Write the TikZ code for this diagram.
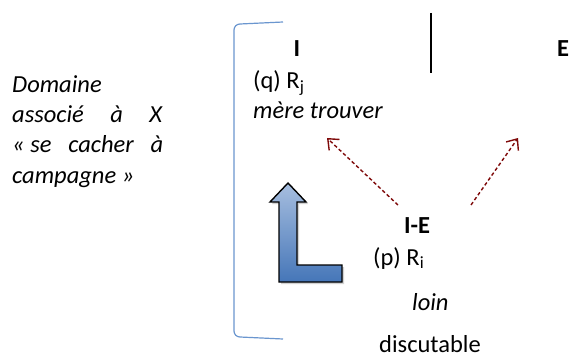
\documentclass[tikz,border=0pt]{standalone}
\usepackage{fontspec}
\setmainfont{Carlito}
\usetikzlibrary{arrows.meta,shadows}
\definecolor{brk}{HTML}{6A96CF}
\definecolor{dred}{HTML}{7F0A0A}
\definecolor{ltop}{HTML}{A7BEDF}
\definecolor{lbot}{HTML}{4576B8}
\tikzset{
  txt/.style={inner sep=0pt, font=\fontsize{24.5}{29}\selectfont},
  btxt/.style={txt, font=\fontsize{24.5}{29}\selectfont\bfseries},
  itxt/.style={txt, font=\fontsize{24.5}{29}\selectfont\itshape},
  redarrow/.style={draw=dred, line width=1.4pt, dash pattern=on 3.5pt off 2.5pt, -{Straight Barb[length=9pt,width=15pt,line width=1.4pt]}},
}
\begin{document}
\begin{tikzpicture}[x=1pt,y=-1pt]
\useasboundingbox[fill=white] (0,0) rectangle (569,358);
% left text
\node[itxt, anchor=base west] (dom) at (12,93) {Domaine};
\node[itxt, anchor=base west] (assoc) at (12,123) {\makebox[150pt][s]{associé\hfill à\hfill X}};
\node[itxt, anchor=base west] (cach) at (12,153) {\makebox[151pt][s]{«\ se\hfill cacher\hfill à}};
\node[itxt, anchor=base west] (camp) at (12,183) {campagne\ »};
% bracket
\draw[brk, line width=1.2pt] (283,22) -- (240,24) to[out=180,in=90] (234,30) -- (234,331) to[out=-90,in=180] (240,337) -- (283,339);
% divider
\draw[line width=1.4pt] (431,13) coordinate (divtop) -- (431,73) coordinate (divbot);
% top labels
\node[btxt, anchor=base] (I) at (297,57) {I};
\node[btxt, anchor=base] (E) at (563,57) {E};
\node[txt, anchor=base west] (q) at (253,89) {(q) R\textsubscript{j}};
\node[itxt, anchor=base west] (mere) at (253,119) {mère trouver};
% bottom labels
\node[btxt, anchor=base] (IE) at (417,233) {I-E};
\node[txt, anchor=base west] (p) at (373,265) {(p) R\textsubscript{i}};
\node[itxt, anchor=base west] (loin) at (412,310) {loin};
\node[txt, anchor=base west] (disc) at (379,352) {discutable};
% red arrows
\coordinate (a1s) at (398,205);
\coordinate (a1e) at (327,138);
\coordinate (a2s) at (471,205);
\coordinate (a2e) at (518,138);
\draw[redarrow] (a1s) -- (a1e);
\draw[redarrow] (a2s) -- (a2e);
% blue L arrow
\shade[top color=ltop, bottom color=lbot, draw=black, line width=1.4pt, line join=miter, drop shadow={shadow xshift=2pt, shadow yshift=-2pt, opacity=0.35}]
  (288,183) -- (306,202) -- (297,202) -- (297,265) -- (342,265) -- (342,282) -- (279,282) -- (279,202) -- (270,202) -- cycle;
\end{tikzpicture}
\end{document}
